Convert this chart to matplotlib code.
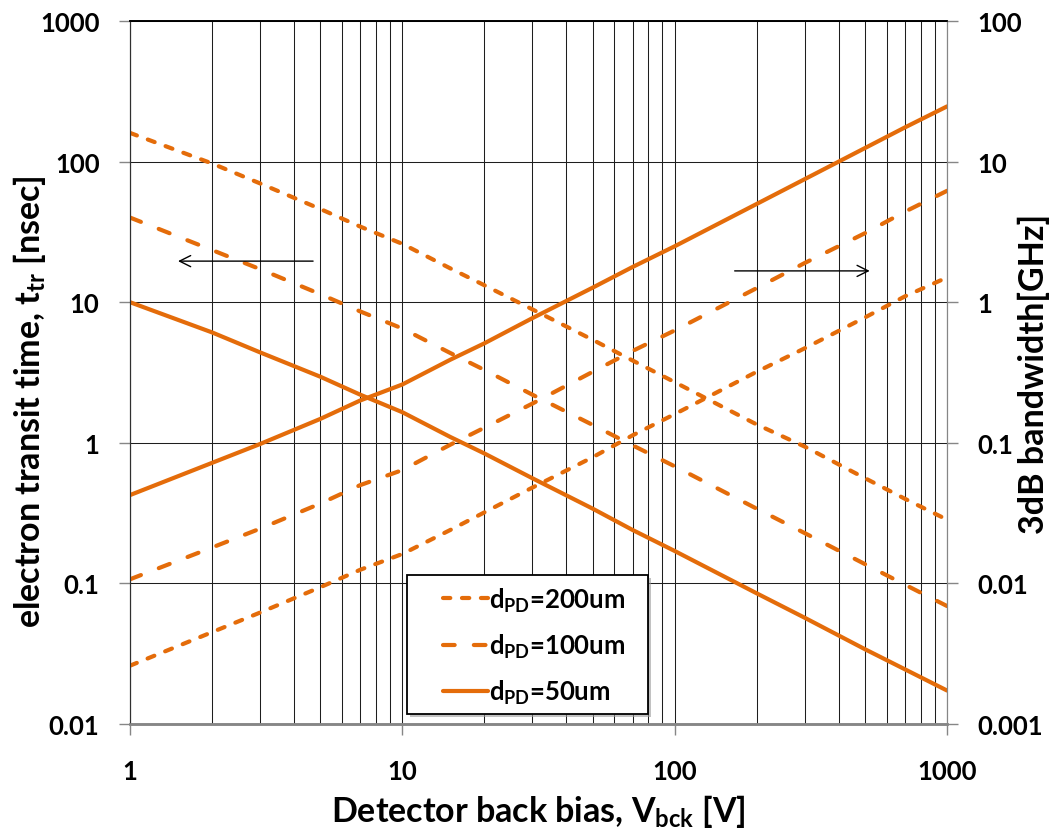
import matplotlib
matplotlib.use('Agg')
import matplotlib.pyplot as plt
from matplotlib.ticker import FuncFormatter, LogLocator, NullLocator
from matplotlib.patches import Rectangle

plt.rcParams['font.family'] = ['Lato', 'DejaVu Sans']
plt.rcParams['font.weight'] = 'bold'
plt.rcParams['axes.labelweight'] = 'bold'
plt.rcParams['mathtext.fontset'] = 'custom'
plt.rcParams['mathtext.rm'] = 'Lato:bold'
plt.rcParams['mathtext.it'] = 'Lato:bold'
plt.rcParams['mathtext.bf'] = 'Lato:bold'

# back bias [V]
bias_v = [1, 2, 3, 5, 7, 10, 15, 20, 30, 50, 70, 100, 200, 300, 500, 700, 1000]

# electron transit time [nsec]
transit_50 = [10, 6.1, 4.4, 2.95, 2.2, 1.65, 1.1, 0.84, 0.56, 0.34, 0.24, 0.17,
              0.085, 0.057, 0.034, 0.0245, 0.0173]
transit_100 = [40, 23.5, 17.2, 11.4, 8.6, 6.5, 4.35, 3.3, 2.2, 1.34, 0.96, 0.68,
               0.34, 0.228, 0.137, 0.098, 0.069]
transit_200 = [160, 97, 70, 46, 34.5, 26, 17.4, 13.2, 8.9, 5.4, 3.85, 2.7,
               1.35, 0.94, 0.56, 0.40, 0.284]

# 3dB bandwidth [GHz]
bw_50 = [0.0425, 0.072, 0.098, 0.148, 0.2, 0.26, 0.39, 0.51, 0.77, 1.27, 1.78, 2.5,
         5.0, 7.5, 12.5, 17.5, 24.7]
bw_100 = [0.0107, 0.018, 0.0245, 0.037, 0.05, 0.064, 0.097, 0.128, 0.19, 0.32, 0.45,
          0.63, 1.26, 1.9, 3.1, 4.4, 6.2]
bw_200 = [0.0026, 0.0045, 0.0062, 0.0094, 0.0125, 0.0162, 0.024, 0.032, 0.048, 0.079,
          0.113, 0.16, 0.32, 0.47, 0.78, 1.1, 1.5]

labels = ['$d_{PD}$=200um', '$d_{PD}$=100um', '$d_{PD}$=50um']

orange = '#E46C0A'
lw = 3.0
short_dash = (1.75, 2.8)
long_dash = (2.8, 4.6)
dash_kw = dict(color=orange, lw=lw, dash_capstyle='round')

fig = plt.figure(figsize=(10.53, 8.37), dpi=100)
ax = fig.add_axes([0.1235, 0.1338, 0.7759, 0.8399])
ax2 = ax.twinx()

for a in (ax, ax2):
    a.set_xscale('log')
    a.set_yscale('log')
    a.set_xlim(1, 1000)

ax.set_ylim(0.01, 1000)
ax2.set_ylim(0.001, 100)

l200, = ax.plot(bias_v, transit_200, dashes=short_dash, **dash_kw)
l100, = ax.plot(bias_v, transit_100, dashes=long_dash, **dash_kw)
l50, = ax.plot(bias_v, transit_50, color=orange, lw=lw, solid_capstyle='round')

ax2.plot(bias_v, bw_200, dashes=short_dash, **dash_kw)
ax2.plot(bias_v, bw_100, dashes=long_dash, **dash_kw)
ax2.plot(bias_v, bw_50, color=orange, lw=lw, solid_capstyle='round')

# grid: every decade and sub-decade along x, decades only along y
ax.xaxis.set_major_locator(LogLocator(base=10, numticks=10))
ax.xaxis.set_minor_locator(LogLocator(base=10, subs=range(2, 10), numticks=10))
ax.yaxis.set_minor_locator(NullLocator())
ax2.yaxis.set_minor_locator(NullLocator())
ax.grid(True, which='both', axis='x', color='#1e1e1e', lw=0.75)
ax.grid(True, which='major', axis='y', color='#1e1e1e', lw=0.75)
ax.set_axisbelow(True)

fmt = FuncFormatter(lambda v, p: '%g' % v)
ax.xaxis.set_major_formatter(fmt)
ax.yaxis.set_major_formatter(fmt)
ax2.yaxis.set_major_formatter(fmt)

ax.tick_params(axis='both', which='major', labelsize=18.5, length=8, width=1,
               color='#868686')
ax.tick_params(axis='x', which='major', pad=17)
ax.tick_params(axis='y', which='major', pad=14)
ax.tick_params(which='minor', length=0)
ax2.tick_params(axis='y', which='major', labelsize=18.5, length=8, width=1,
                color='#868686', pad=14)

for a in (ax, ax2):
    a.spines['top'].set_color('black')
    a.spines['top'].set_linewidth(1.2)
    a.spines['left'].set_color('#303030')
    a.spines['right'].set_color('#868686')
    a.spines['bottom'].set_color('#868686')
    a.spines['bottom'].set_linewidth(1.8)

ax.set_xlabel('Detector back bias, $V_{bck}$ [V]', fontsize=24.5, labelpad=7)
ax.set_ylabel('electron transit time, $t_{tr}$ [nsec]', fontsize=24.5)
ax2.set_ylabel('3dB bandwidth[GHz]', fontsize=24.5)
ax.yaxis.set_label_coords(-0.1, 0.46)
ax2.yaxis.set_label_coords(1.087, 0.5)

# direction arrows: left curves read on the left axis, right ones on the right
ax.annotate('', xy=(1.5, 19.6), xytext=(4.7, 19.6),
            arrowprops=dict(arrowstyle='->', color='black', lw=1, mutation_scale=20,
                            shrinkA=0, shrinkB=0))
ax.annotate('', xy=(520, 16.7), xytext=(166, 16.7),
            arrowprops=dict(arrowstyle='->', color='black', lw=1, mutation_scale=20,
                            shrinkA=0, shrinkB=0))

# legend box with a drop shadow
box = (0.3865, 0.1458, 0.2289, 0.1661)
shadow = Rectangle((box[0] + 0.003, box[1] - 0.004), box[2], box[3],
                   transform=fig.transFigure, facecolor='#9a9a9a', edgecolor='none',
                   alpha=0.6, zorder=2)
frame = Rectangle(box[:2], box[2], box[3], transform=fig.transFigure,
                  facecolor='white', edgecolor='black', lw=1.3, zorder=3)
fig.add_artist(shadow)
fig.add_artist(frame)
leg = fig.legend([l200, l100, l50], labels, loc='upper left',
                 bbox_to_anchor=(0.4207, 0.2995), frameon=False, fontsize=18.5,
                 handlelength=1.75, handletextpad=0.05, borderpad=0,
                 borderaxespad=0, labelspacing=0.7)
leg.set_zorder(5)

fig.savefig('out.png', dpi=100)
